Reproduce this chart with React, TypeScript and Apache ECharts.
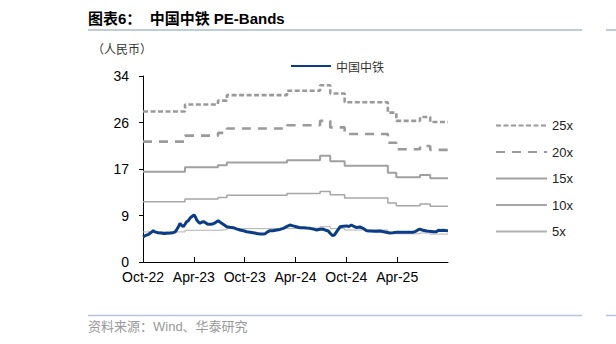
import React, { useEffect, useRef } from "react";
import * as echarts from "echarts";

// x values are months since Oct-2022
const xTickLabels = ["Oct-22", "Apr-23", "Oct-23", "Apr-24", "Oct-24", "Apr-25", "Oct-25"];
const yTickValues = [0, 8.5, 17, 25.5, 34];

const bandStepMonths = [0, 4.96, 8.85, 9.9, 17.0, 20.9, 22.1, 23.8, 28.9, 29.9, 32.7, 33.9, 36];
const band25 = [27.5, 28.8, 29.5, 30.5, 31.3, 32.3, 30.8, 29.2, 27.3, 25.8, 26.5, 25.6, 25.6];
const band20 = [22.0, 23.1, 23.6, 24.4, 25.0, 25.8, 24.6, 23.4, 21.8, 20.6, 21.2, 20.5, 20.5];
const band15 = [16.5, 17.3, 17.7, 18.2, 18.6, 19.4, 18.4, 17.6, 16.3, 15.5, 15.9, 15.3, 15.3];
const band10 = [11.0, 11.5, 11.8, 12.2, 12.5, 12.9, 12.3, 11.7, 10.8, 10.3, 10.6, 10.2, 10.2];
const band5 = [5.5, 5.8, 5.9, 6.1, 6.2, 6.45, 6.1, 5.85, 5.4, 5.15, 5.3, 5.1, 5.1];

const priceMonths = [
  0.0, 0.35, 0.6, 0.83, 1.06, 1.2, 1.4, 1.77, 2.1, 2.5, 2.8, 3.2, 3.55, 3.8, 4.0, 4.2, 4.37, 4.55,
  4.76, 4.96, 5.16, 5.37, 5.55, 5.75, 6.02, 6.2, 6.34, 6.55, 6.73, 6.96, 7.2, 7.43, 7.7, 8.0, 8.3,
  8.55, 8.88, 9.08, 9.28, 9.56, 9.88, 10.27, 10.65, 11.03, 11.45, 11.86, 12.24, 12.63, 13.0, 13.45,
  13.8, 14.16, 14.4, 14.7, 15.0, 15.34, 15.78, 16.17, 16.55, 16.93, 17.35, 17.73, 18.1, 18.5, 18.9,
  19.3, 19.7, 20.06, 20.5, 20.9, 21.27, 21.6, 21.87, 22.12, 22.38, 22.6, 22.86, 23.07, 23.25, 23.63,
  24.03, 24.3, 24.6, 24.9, 25.2, 25.6, 26.0, 26.4, 26.8, 27.4, 27.96, 28.55, 29.14, 29.5, 29.94,
  30.3, 30.9, 31.5, 31.9, 32.2, 32.5, 32.7, 33.04, 33.5, 33.86, 34.25, 34.65, 34.84, 35.16, 35.43,
  35.75, 36.0,
];
const priceValues = [
  4.6, 4.9, 5.0, 5.24, 5.5, 5.75, 5.5, 5.36, 5.3, 5.2, 5.25, 5.3, 5.36, 5.5, 5.97, 6.5, 7.07, 6.7,
  6.46, 6.9, 7.37, 7.6, 8.0, 8.28, 8.6, 8.2, 7.68, 7.3, 7.07, 7.3, 7.37, 7.1, 6.89, 6.9, 6.98,
  7.2, 7.55, 7.3, 7.1, 6.8, 6.46, 6.35, 6.27, 6.05, 5.85, 5.7, 5.54, 5.45, 5.36, 5.2,
  5.12, 5.1, 5.15, 5.5, 5.73, 5.7, 5.85, 5.95, 6.15, 6.45, 6.76, 6.6, 6.45, 6.27, 6.27,
  6.2, 6.15, 6.05, 5.85, 6.0, 6.03, 5.8, 5.67, 5.2, 4.8, 4.95, 5.54, 6.0, 6.46, 6.55,
  6.6, 6.5, 6.76, 6.5, 6.3, 6.4, 6.15, 5.7, 5.67, 5.6, 5.67, 5.5, 5.3, 5.35, 5.42,
  5.42, 5.45, 5.42, 5.45, 5.6, 5.9, 6.03, 5.8, 5.67, 5.6, 5.54, 5.55, 5.8, 5.75, 5.79,
  5.75, 5.73,
];

const LATIN = "'Liberation Sans', Arial, 'Noto Sans CJK SC', sans-serif";
const CJK = "'Noto Sans CJK SC', sans-serif";

function pairs(xs: number[], ys: number[]) {
  return xs.map((x, i) => [x, ys[i]]);
}

export default function App() {
  const ref = useRef<HTMLDivElement>(null);
  useEffect(() => {
    if (!ref.current) return;
    const chart = echarts.init(ref.current, undefined, { renderer: "svg" });
    const bandSeries = (name: string, vals: number[], color: string, width: number, type: any) => ({
      name,
      type: "line",
      step: "end",
      data: pairs(bandStepMonths, vals),
      symbol: "none",
      lineStyle: { color, width, type },
      itemStyle: { color },
      z: 2,
    });
    chart.setOption({
      animation: false,
      backgroundColor: "#ffffff",
      grid: { left: 143, right: 168, top: 76, bottom: 82 },
      xAxis: {
        type: "value",
        min: 0,
        max: 36,
        interval: 6,
        axisLine: { show: true, lineStyle: { color: "#000", width: 1 } },
        axisTick: { show: true, inside: true, length: 5, lineStyle: { color: "#000" } },
        splitLine: { show: false },
        axisLabel: {
          showMaxLabel: false,
          margin: 8,
          color: "#000",
          fontSize: 14,
          fontFamily: LATIN,
          formatter: (v: number) => xTickLabels[Math.round(v / 6)] ?? "",
        },
      },
      yAxis: {
        type: "value",
        min: yTickValues[0],
        max: yTickValues[yTickValues.length - 1],
        interval: yTickValues[1] - yTickValues[0],
        axisLine: { show: true, lineStyle: { color: "#000", width: 1 } },
        axisTick: { show: true, inside: false, length: 4, lineStyle: { color: "#000" } },
        splitLine: { show: false },
        axisLabel: {
          margin: 14,
          color: "#000",
          fontSize: 14,
          fontFamily: LATIN,
          formatter: (v: number) => String(Math.round(v)),
        },
      },
      legend: [
        {
          data: ["中国中铁"],
          left: 285,
          top: 55,
          itemWidth: 40,
          itemHeight: 14,
          itemStyle: { opacity: 0 },
          textStyle: { fontSize: 12, color: "#333", fontFamily: CJK },
        },
        {
          data: ["25x", "20x", "15x", "10x", "5x"],
          orient: "vertical",
          left: 490,
          top: 114,
          itemWidth: 51,
          itemHeight: 14,
          itemGap: 13.5,
          itemStyle: { opacity: 0 },
          textStyle: { fontSize: 13, color: "#222", fontFamily: LATIN },
        },
      ],
      series: [
        bandSeries("25x", band25, "#9a9a9a", 2.6, [5, 2.5]),
        bandSeries("20x", band20, "#9a9a9a", 2.6, [9, 7]),
        bandSeries("15x", band15, "#a0a0a0", 2, "solid"),
        bandSeries("10x", band10, "#a6a6a6", 1.5, "solid"),
        bandSeries("5x", band5, "#b0b0b0", 1, "solid"),
        {
          name: "中国中铁",
          type: "line",
          data: pairs(priceMonths, priceValues),
          symbol: "none",
          lineStyle: { color: "#0b3d86", width: 3 },
          itemStyle: { color: "#0b3d86" },
          z: 5,
        },
      ],
      graphic: [
        {
          type: "text",
          x: 88,
          y: 18,
          style: {
            text: "图表6：  中国中铁 PE-Bands",
            fontSize: 15,
            fontWeight: "bold",
            fontFamily: LATIN,
            fill: "#000",
            verticalAlign: "middle",
          },
        },
        { type: "line", shape: { x1: 88, y1: 30, x2: 582, y2: 30 }, style: { stroke: "#a9bbd0", lineWidth: 1.5 } },
        { type: "line", shape: { x1: 606, y1: 30, x2: 616, y2: 30 }, style: { stroke: "#a9bbd0", lineWidth: 1.5 } },
        {
          type: "text",
          x: 92,
          y: 48,
          style: { text: "（人民币）", fontSize: 12, fontFamily: CJK, fill: "#333", verticalAlign: "middle" },
        },
        { type: "line", shape: { x1: 88, y1: 315.5, x2: 582, y2: 315.5 }, style: { stroke: "#b5c4d6", lineWidth: 1.5 } },
        { type: "line", shape: { x1: 606, y1: 315.5, x2: 616, y2: 315.5 }, style: { stroke: "#b5c4d6", lineWidth: 1.5 } },
        {
          type: "text",
          x: 88,
          y: 326,
          style: { text: "资料来源：Wind、华泰研究", fontSize: 13, fontFamily: LATIN, fill: "#999", verticalAlign: "middle" },
        },
      ],
    });
    return () => chart.dispose();
  }, []);
  return (
    <div
      ref={ref}
      style={{ position: "fixed", left: 0, top: 0, width: 616, height: 344, background: "#fff" }}
    />
  );
}
